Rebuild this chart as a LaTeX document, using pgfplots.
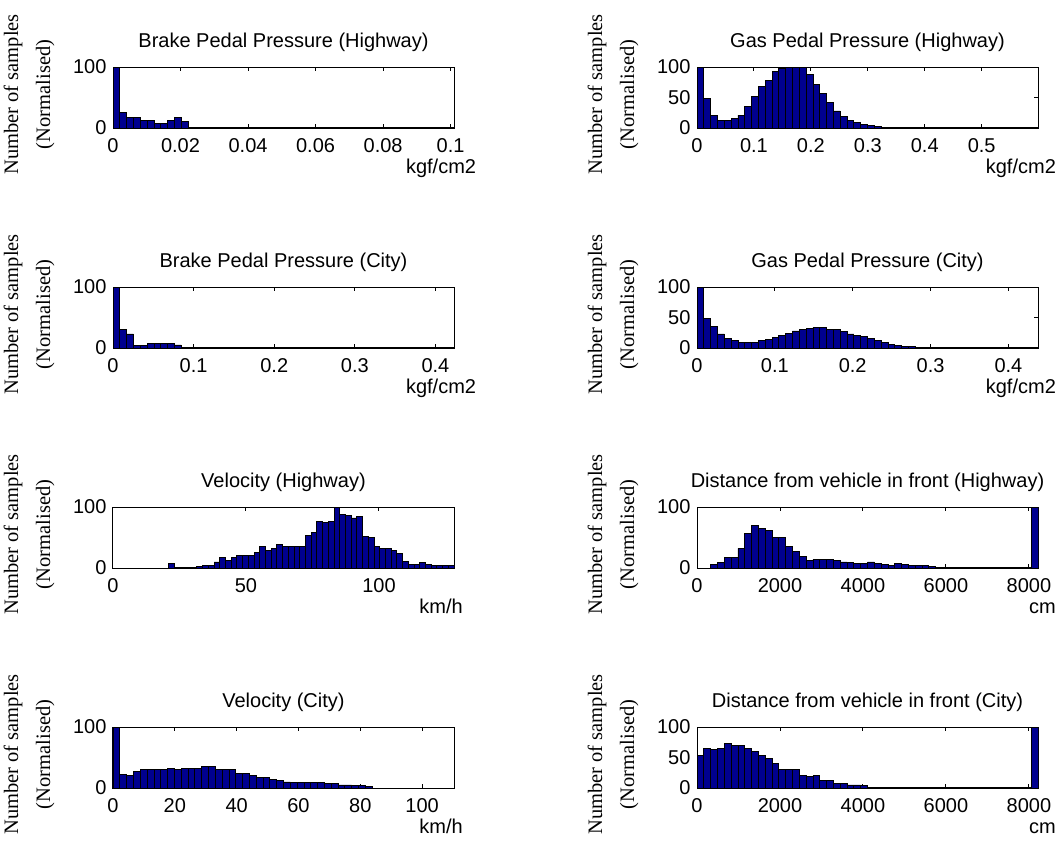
\documentclass[border=0pt]{standalone}
\usepackage{fontspec}
\setmainfont{Liberation Sans}
\newfontfamily\labelserif{Liberation Serif}
\usepackage{pgfplots}
\usepackage{pgfplotstable}
\pgfplotsset{compat=1.18}
\definecolor{barblue}{rgb}{0,0,0.56}

% histogram heights (normalised, max = 100), one value per bin
\pgfplotstableread[row sep=\\]{y\\
100\\26\\18\\18\\13\\13\\8\\8\\13\\18\\
11\\0.3\\0.3\\0.3\\0.3\\0.3\\0.3\\0.3\\0.3\\0.3\\
0.3\\0.3\\0.3\\0.3\\0.3\\0.3\\0.3\\0.3\\0.3\\0.3\\
0.3\\0.3\\0.3\\0.3\\0.3\\0.3\\0.3\\0.3\\0.3\\0.3\\
0.3\\0.3\\0.3\\0.3\\0.3\\0.3\\0.3\\0.3\\0.3\\1.5\\
}\brakeHw
\pgfplotstableread[row sep=\\]{y\\
100\\48\\20\\13\\13\\16\\21\\35\\52\\68\\
78\\92\\98\\100\\100\\100\\88\\71\\56\\42\\
28\\19\\13\\9\\6\\4\\2\\1.5\\1\\1\\
0.5\\0.5\\0.5\\0.5\\0.5\\1\\1\\0.5\\0.5\\1.5\\
0.5\\0.5\\0.5\\0.5\\0.5\\0.5\\0.5\\0.5\\0.5\\1.5\\
}\gasHw
\pgfplotstableread[row sep=\\]{y\\
100\\30\\23\\4\\4\\8\\8\\8\\8\\5\\
1\\0.5\\0.3\\0.3\\0.3\\0.3\\0.3\\0.3\\0.3\\0.3\\
0.3\\0.3\\0.3\\0.3\\0.3\\0.3\\0.3\\0.3\\0.3\\0.3\\
0.3\\0.3\\0.3\\0.3\\0.3\\0.3\\0.3\\0.3\\0.3\\0.3\\
0.3\\0.3\\0.3\\0.3\\0.3\\0.3\\0.3\\0.3\\0.3\\0.3\\
}\brakeCity
\pgfplotstableread[row sep=\\]{y\\
100\\49\\36\\23\\15\\12\\9\\9\\9\\12\\
14\\18\\21\\24\\28\\30\\32\\34\\33\\31\\
30\\27\\23\\21\\19\\16\\13\\9\\6\\4\\
3\\2\\1\\0.5\\0.5\\0.5\\0.5\\0.5\\0.5\\0.5\\
0.5\\0.5\\0.5\\0.5\\0.5\\0.5\\0.5\\0.5\\0.5\\0.5\\
}\gasCity
\pgfplotstableread[row sep=\\]{y\\
7\\1.5\\1.5\\1.5\\1.5\\2\\4.5\\4.5\\10\\17\\
12\\17\\21\\21\\21\\25\\35\\29\\32\\39\\
36\\36\\36\\36\\53\\59\\77\\75\\77\\100\\
88\\86\\82\\85\\52\\50\\35\\32\\32\\29\\
24\\11\\6\\6\\9\\6\\4.5\\4.5\\4.5\\4.5\\
}\velHw
\pgfplotstableread[row sep=\\]{y\\
0\\0\\6\\9\\17\\17\\32\\57\\70\\65\\
62\\50\\50\\35\\27\\19\\12\\14\\14\\14\\
12\\10\\9\\7\\7\\10\\7\\6\\4.5\\7\\
6\\4.5\\4.5\\4.5\\3\\1.5\\1\\0.5\\0.5\\0.5\\
0.5\\0.5\\0.5\\1\\0.5\\0.5\\0.5\\0.5\\0.5\\100\\
}\distHw
\pgfplotstableread[row sep=\\]{y\\
100\\22.5\\20\\27\\30\\30\\30\\30\\32\\30\\
32\\32\\32\\35\\35\\30\\30\\30\\24\\24\\
21\\17\\17\\14\\12\\10\\9\\9\\9\\9\\
9\\7\\7\\5\\5\\4.5\\4.5\\3\\
}\velCity
\pgfplotstableread[row sep=\\]{y\\
54\\65\\63\\65\\73\\70\\70\\65\\60\\53\\
48\\40\\31\\30\\30\\21\\19\\20\\12\\12\\
8\\7\\5\\5\\4\\0.5\\0.5\\0.5\\0.5\\0.5\\
0.5\\0.5\\0.5\\0.5\\0.5\\0.5\\0.5\\0.5\\0.5\\0.5\\
0.5\\0.5\\0.5\\0.5\\0.5\\0.5\\0.5\\0.5\\0.5\\100\\
}\distCity

\pgfplotsset{
  hist/.style={
    scale only axis, width=341pt, height=61pt,
    anchor=north west,
    ymin=0, ymax=100,
    axis line style={line width=1pt},
    tick align=inside, tick pos=both, major tick length=4pt,
    every tick/.style={black, line width=1pt},
    ticklabel style={font=\fontsize{20}{24}\selectfont},
    /pgf/number format/assume math mode=true,
    /pgf/number format/1000 sep={},
    scaled ticks=false,
    xticklabel style={anchor=base, yshift=-24pt, /pgf/number format/fixed},
    yticklabel style={anchor=east, xshift=-3pt},
    title style={font=\fontsize{20}{24}\selectfont, at={(0.5,1)}, anchor=base, yshift=14pt, inner sep=0pt},
    ylabel={Number of samples\\(Normalised)},
    ylabel style={font=\labelserif\fontsize{20.5}{32}\selectfont, align=center, anchor=south, inner sep=0pt},
    xlabel style={font=\fontsize{20}{24}\selectfont, inner sep=0pt},
  },
  leftcol/.style={hist,
    ylabel style={at={(axis description cs:-0.171,0.55)}},
    xlabel style={at={(axis description cs:0.962,0)}, anchor=base, yshift=-45pt}},
  rightcol/.style={hist,
    ylabel style={at={(axis description cs:-0.171,0.55)}},
    xlabel style={at={(axis description cs:1.053,0)}, anchor=base east, yshift=-45pt}},
  bars/.style={ybar, fill=barblue, draw=black, line width=0.8pt},
}

\begin{document}
\begin{tikzpicture}
\useasboundingbox (0,0) rectangle (1059pt,-865pt);

% row 1
\begin{axis}[leftcol, at={(113pt,-67pt)}, title={Brake Pedal Pressure (Highway)},
  xmin=0, xmax=0.101, xtick={0,0.02,0.04,0.06,0.08,0.1}, ytick={0,100}, xlabel={kgf/cm2}]
\addplot[bars, bar width=0.00202] table[x expr=\coordindex*0.00202+0.00101, y=y] {\brakeHw};
\end{axis}
\begin{axis}[rightcol, at={(697pt,-67pt)}, title={Gas Pedal Pressure (Highway)},
  xmin=0, xmax=0.599, xtick={0,0.1,0.2,0.3,0.4,0.5}, ytick={0,50,100}, xlabel={kgf/cm2}]
\addplot[bars, bar width=0.01198] table[x expr=\coordindex*0.01198+0.00599, y=y] {\gasHw};
\end{axis}

% row 2
\begin{axis}[leftcol, at={(113pt,-287pt)}, title={Brake Pedal Pressure (City)},
  xmin=0, xmax=0.423, xtick={0,0.1,0.2,0.3,0.4}, ytick={0,100}, xlabel={kgf/cm2}]
\addplot[bars, bar width=0.00846] table[x expr=\coordindex*0.00846+0.00423, y=y] {\brakeCity};
\end{axis}
\begin{axis}[rightcol, at={(697pt,-287pt)}, title={Gas Pedal Pressure (City)},
  xmin=0, xmax=0.438, xtick={0,0.1,0.2,0.3,0.4}, ytick={0,50,100}, xlabel={kgf/cm2}]
\addplot[bars, bar width=0.00876] table[x expr=\coordindex*0.00876+0.00438, y=y] {\gasCity};
\end{axis}

% row 3
\begin{axis}[leftcol, at={(113pt,-507pt)}, title={Velocity (Highway)},
  xmin=0, xmax=128.2, xtick={0,50,100}, ytick={0,100}, xlabel={km/h}]
\addplot[bars, bar width=2.148] table[x expr=20.8+\coordindex*2.148+1.074, y=y] {\velHw};
\end{axis}
\begin{axis}[rightcol, at={(697pt,-507pt)}, title={Distance from vehicle in front (Highway)},
  xmin=0, xmax=8218, xtick={0,2000,4000,6000,8000}, ytick={0,100}, xlabel={cm}]
\addplot[bars, bar width=164.36] table[x expr=\coordindex*164.36+82.18, y=y] {\distHw};
\end{axis}

% row 4
\begin{axis}[leftcol, at={(113pt,-727pt)}, title={Velocity (City)},
  xmin=0, xmax=110.3, xtick={0,20,40,60,80,100}, ytick={0,100}, xlabel={km/h}]
\addplot[bars, bar width=2.206] table[x expr=\coordindex*2.206+1.103, y=y] {\velCity};
\end{axis}
\begin{axis}[rightcol, at={(697pt,-727pt)}, title={Distance from vehicle in front (City)},
  xmin=0, xmax=8218, xtick={0,2000,4000,6000,8000}, ytick={0,50,100}, xlabel={cm}]
\addplot[bars, bar width=164.36] table[x expr=\coordindex*164.36+82.18, y=y] {\distCity};
\end{axis}
\end{tikzpicture}
\end{document}
